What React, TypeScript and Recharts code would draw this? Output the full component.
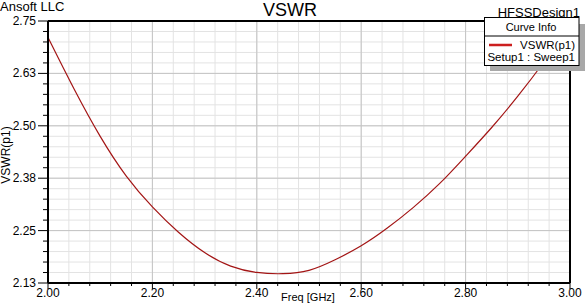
import React from 'react'
import { LineChart, Line, XAxis, YAxis, CartesianGrid, ReferenceLine } from 'recharts'

// frequency sweep (GHz) and VSWR
const freqs = [2.0, 2.05, 2.1, 2.15, 2.2, 2.25, 2.3, 2.35, 2.4, 2.45, 2.5, 2.55, 2.6, 2.65, 2.7, 2.75, 2.8, 2.85, 2.9, 2.95, 3.0]
const vswr = [2.711, 2.589, 2.477, 2.383, 2.31, 2.25, 2.202, 2.17, 2.155, 2.152, 2.16, 2.185, 2.218, 2.26, 2.309, 2.365, 2.43, 2.498, 2.572, 2.653, 2.74]

// axis ticks: labelled every 5th one
const xTicks = Array.from({ length: 26 }, (_, i) => +(2 + i * 0.04).toFixed(2))
const yTicks = Array.from({ length: 26 }, (_, i) => +(2.13 + i * 0.0248).toFixed(4))
const xMajor = [2.2, 2.4, 2.6, 2.8]
const yMajor = [2.254, 2.378, 2.502, 2.626]

const data = freqs.map((f, i) => ({ freq: f, vswr: vswr[i] }))

const FONT = '"Liberation Sans", Arial, sans-serif'

const XTick = (props: any) => {
  const { x, y, index, payload } = props
  const major = index % 5 === 0
  return (
    <g>
      <line x1={x} x2={x} y1={y} y2={y + (major ? 6 : 3)} stroke="#000" />
      {major && (
        <text x={x} y={y + 14} textAnchor="middle" fontSize={12} fontFamily={FONT} fill="#000">
          {payload.value.toFixed(2)}
        </text>
      )}
    </g>
  )
}

const YTick = (props: any) => {
  const { x, y, index, payload } = props
  const major = index % 5 === 0
  return (
    <g>
      <line x1={x - (major ? 10 : 5)} x2={x} y1={y} y2={y} stroke="#000" />
      {major && (
        <text x={x - 12} y={y + 4} textAnchor="end" fontSize={12} fontFamily={FONT} fill="#000">
          {payload.value.toFixed(2)}
        </text>
      )}
    </g>
  )
}

export default function App() {
  return (
    <div style={{ position: 'fixed', left: 0, top: 0, width: 587, height: 304, background: '#fff', overflow: 'hidden' }}>
      <LineChart width={587} height={304} data={data} margin={{ top: 21, right: 17, bottom: 0, left: 0 }}>
        <CartesianGrid stroke="#e3e3e3" strokeWidth={1} />
        {xMajor.map((v) => (
          <ReferenceLine key={'x' + v} x={v} stroke="#c4c4c4" />
        ))}
        {yMajor.map((v) => (
          <ReferenceLine key={'y' + v} y={v} stroke="#c4c4c4" />
        ))}
        <XAxis
          dataKey="freq"
          type="number"
          domain={[2, 3]}
          ticks={xTicks}
          interval={0}
          height={21}
          tickSize={0}
          tickMargin={0}
          tickLine={false}
          axisLine={{ stroke: '#000', strokeWidth: 2 }}
          tick={<XTick />}
        />
        <YAxis
          type="number"
          domain={[2.13, 2.75]}
          ticks={yTicks}
          interval={0}
          width={48}
          tickSize={0}
          tickMargin={0}
          tickLine={false}
          allowDataOverflow
          axisLine={{ stroke: '#000', strokeWidth: 2 }}
          tick={<YTick />}
        />
        <ReferenceLine x={3} stroke="#000" strokeWidth={2} />
        <ReferenceLine y={2.75} stroke="#000" strokeWidth={2} />
        <Line type="natural" dataKey="vswr" stroke="#a31515" strokeWidth={1.2} dot={false} isAnimationActive={false} />
      </LineChart>

      {/* titles and legend box drawn over the chart */}
      <svg width={587} height={304} style={{ position: 'absolute', left: 0, top: 0, pointerEvents: 'none' }} fontFamily={FONT}>
        <text x={0} y={11} fontSize={13} fill="#000">Ansoft LLC</text>
        <text x={290} y={16} fontSize={18} textAnchor="middle" fill="#000">VSWR</text>
        <text x={580} y={17} fontSize={13} textAnchor="end" fill="#000">HFSSDesign1</text>
        <text x={10} y={155} fontSize={12} textAnchor="middle" fill="#000" transform="rotate(-90 10 155)">VSWR(p1)</text>
        <text x={308} y={301} fontSize={11} textAnchor="middle" fill="#000">Freq [GHz]</text>

        <rect x={490} y={24} width={95} height={47} fill="#a8a8a8" />
        <rect x={484.5} y={17.5} width={94.5} height={48} fill="#fff" stroke="#000" />
        <text x={531} y={31} fontSize={11} textAnchor="middle" fill="#000">Curve Info</text>
        <line x1={484.5} x2={579} y1={36} y2={36} stroke="#000" />
        <line x1={489} x2={512} y1={45} y2={45} stroke="#cc1f1f" strokeWidth={2.5} />
        <text x={575} y={49} fontSize={11.5} textAnchor="end" fill="#000">VSWR(p1)</text>
        <text x={575} y={61} fontSize={11.5} textAnchor="end" fill="#000">Setup1 : Sweep1</text>
      </svg>
    </div>
  )
}
